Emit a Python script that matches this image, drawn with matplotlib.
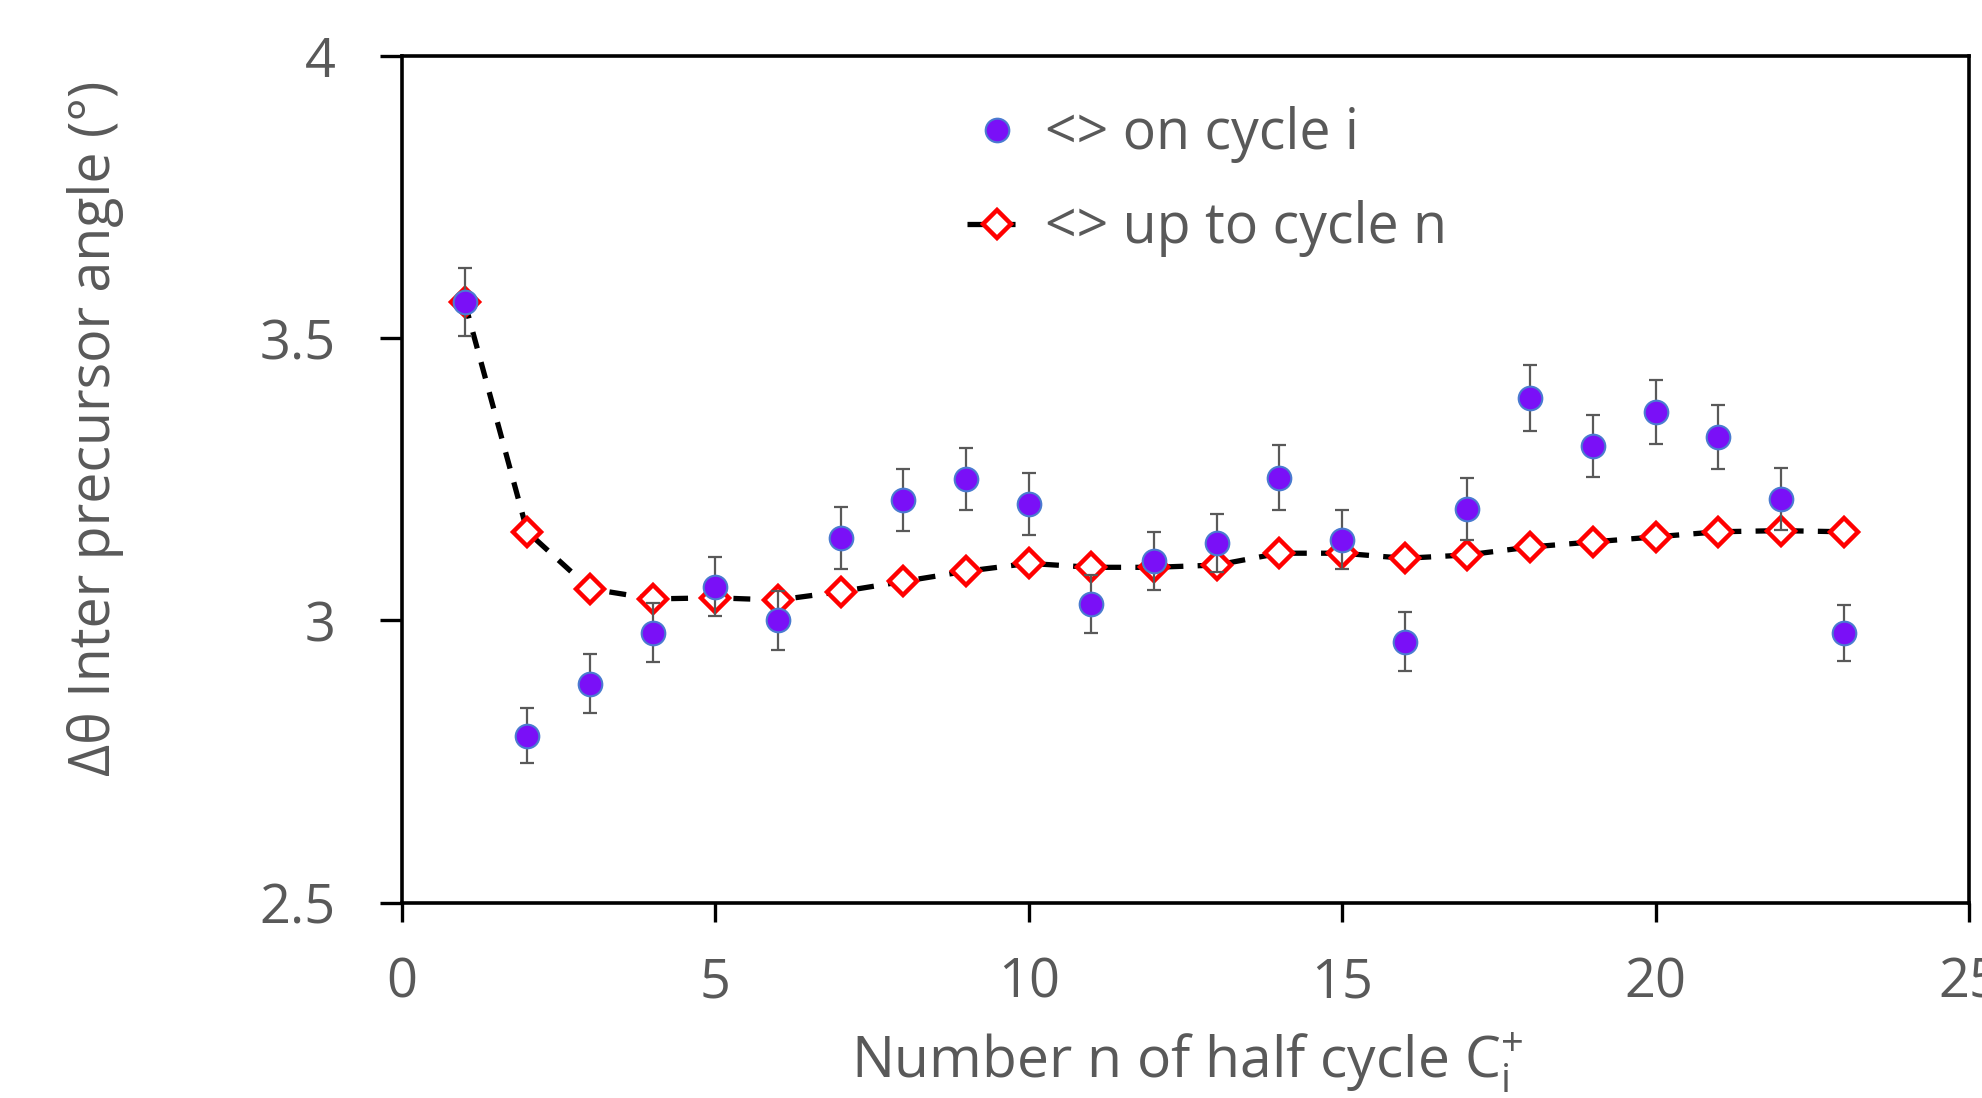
import numpy as np
import matplotlib.pyplot as plt

# half cycle number
cycles = np.arange(1, 24)

# mean angle on cycle i
angle_on_cycle = [3.564, 2.796, 2.888, 2.978, 3.060, 3.000, 3.146, 3.213, 3.251, 3.206,
                  3.029, 3.105, 3.137, 3.253, 3.143, 2.962, 3.197, 3.394, 3.309, 3.369,
                  3.325, 3.215, 2.978]
angle_err = [0.060, 0.048, 0.052, 0.052, 0.052, 0.052, 0.055, 0.055, 0.055, 0.055,
             0.052, 0.052, 0.052, 0.057, 0.052, 0.052, 0.055, 0.059, 0.055, 0.057,
             0.057, 0.055, 0.050]

# mean angle up to cycle n
angle_up_to = [3.564, 3.157, 3.056, 3.038, 3.040, 3.036, 3.051, 3.069, 3.087, 3.101,
               3.094, 3.094, 3.098, 3.119, 3.119, 3.110, 3.116, 3.130, 3.139, 3.148,
               3.157, 3.159, 3.157]

text_color = "#595959"
plt.rcParams['font.family'] = ['Open Sans', 'DejaVu Sans']
plt.rcParams['mathtext.fontset'] = 'custom'
plt.rcParams['mathtext.rm'] = 'Open Sans'

fig = plt.figure(figsize=(19.82, 10.98), dpi=100)
ax = fig.add_axes([0.2028, 0.178, 0.7906, 0.771])

ax.plot(cycles, angle_up_to, linestyle=(0, (3.2, 2.7)), color="black", lw=3.8,
        marker="D", markersize=14.5, markerfacecolor="white", markeredgecolor="#FF0000",
        markeredgewidth=3.2, label="<> up to cycle n", zorder=2)

ax.errorbar(cycles, angle_on_cycle, yerr=angle_err, fmt="none", ecolor=text_color,
            elinewidth=1.6, capsize=5, capthick=1.6, zorder=3)
ax.plot(cycles, angle_on_cycle, linestyle="none", marker="o", markersize=17,
        markerfacecolor="#7A10F7", markeredgecolor="#4A7BD0", markeredgewidth=1.5,
        label="<> on cycle i", zorder=4)

ax.set_xlim(0, 25)
ax.set_ylim(2.5, 4)
ax.set_xticks([0, 5, 10, 15, 20, 25])
ax.set_yticks([2.5, 3, 3.5, 4])
ax.set_yticklabels(["2.5", "3", "3.5", "4"])

for s in ax.spines.values():
    s.set_linewidth(2.6)
ax.tick_params(axis="y", direction="out", length=16, width=2.4, labelsize=39,
               labelcolor=text_color, pad=32)
ax.tick_params(axis="x", direction="out", length=14, width=2.4, labelsize=39,
               labelcolor=text_color, pad=24)

fig.text(0.599, 0.018, r"Number n of half cycle C$\mathregular{^{+}_{i}}$", fontsize=41,
         color=text_color, ha="center", va="baseline")
fig.text(0.048, 0.61, "Δθ Inter precursor angle (°)", fontsize=40, color=text_color,
         rotation=90, ha="center", va="center")

handles, labels = ax.get_legend_handles_labels()
ax.legend(handles[::-1], labels[::-1], loc="upper left", bbox_to_anchor=(0.329, 1.0),
          frameon=False, fontsize=40, labelcolor=text_color, handlelength=1.07,
          handletextpad=0.32, labelspacing=0.67)

fig.savefig("out.png", dpi=100)
